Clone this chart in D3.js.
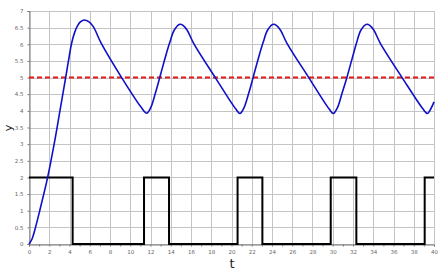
<!DOCTYPE html>
<html><head><meta charset="utf-8">
<script src="https://cdn.jsdelivr.net/npm/d3@7/dist/d3.min.js"></script>
<style>body{margin:0;background:#fff}svg{display:block}</style>
</head><body><svg id="c" width="447" height="273"></svg>
<script>
// Data
const curveT = [0,0.3,0.6,1.1,1.84,2.5,3.0,3.62,3.88,4.21,4.5,4.8,5.1,5.47,5.9,6.35,7.1,9.15,11.1,11.62,
  12.0,12.5,13.0,13.5,13.9,14.35,14.91,15.21,15.61,16.26,18.4,20.41,20.84,
  21.22,21.72,22.22,22.72,23.12,23.57,24.13,24.43,24.83,25.48,27.63,29.63,30.06,
  30.44,30.94,31.44,31.94,32.34,32.79,33.35,33.65,34.05,34.7,36.85,38.9,39.34,39.7,40];
const curveY = [0,0.15,0.45,1.05,2.0,3.03,3.9,5.0,5.47,6.03,6.35,6.56,6.68,6.73,6.68,6.53,6.05,5.0,4.1,3.93,
  4.08,4.55,5.1,5.65,6.05,6.43,6.6,6.57,6.43,6.03,5.0,4.06,3.92,
  4.08,4.55,5.1,5.65,6.05,6.43,6.6,6.57,6.43,6.03,5.0,4.06,3.92,
  4.08,4.55,5.05,5.6,6.03,6.43,6.6,6.57,6.43,6.03,5.0,4.06,3.92,4.07,4.27];
const stepT = [0,4.31,11.36,13.83,20.6,23.05,29.8,32.33,39.08,40];
const stepV = [2,0,2,0,2,0,2,0,2,2];
const refLevel = 5;
const xTicks = d3.range(0,41,2);
const yTicks = d3.range(0,7.01,0.5);

const svg = d3.select("#c");
const L=29,R=434,T=11,B=244;
const x = d3.scaleLinear().domain([0,40]).range([L,R]);
const y = d3.scaleLinear().domain([0,7]).range([B,T]);

// grid
const g = svg.append("g");
g.selectAll(".gx").data(xTicks).enter().append("line")
 .attr("x1",d=>Math.round(x(d))+0.5).attr("x2",d=>Math.round(x(d))+0.5).attr("y1",T).attr("y2",B)
 .attr("stroke","#c4c4c4").attr("stroke-width",1);
g.selectAll(".gy").data(yTicks).enter().append("line")
 .attr("y1",d=>Math.round(y(d))+0.5).attr("y2",d=>Math.round(y(d))+0.5).attr("x1",L).attr("x2",R)
 .attr("stroke","#c4c4c4").attr("stroke-width",1);

// axes
const fmt = d=>String(d);
const ax = svg.append("g").attr("transform",`translate(0,${B+0.5})`)
 .call(d3.axisBottom(x).tickValues(d3.range(0,41,1)).tickSize(2).tickFormat(d=>d%2===0?fmt(d):""));
const ay = svg.append("g").attr("transform",`translate(${L+0.5},0)`)
 .call(d3.axisLeft(y).tickValues(yTicks).tickSize(2).tickFormat(fmt));
[ax,ay].forEach(a=>{
  a.select(".domain").attr("stroke","#777");
  a.selectAll(".tick line").attr("stroke","#777");
  a.selectAll("text").attr("fill","#666").attr("font-size","5.5px").attr("font-family","DejaVu Sans, sans-serif");
});
ax.selectAll("text").attr("dy","0.9em");
ay.selectAll("text").attr("dx","-1px");

// reference dashed line
svg.append("line").attr("x1",L).attr("x2",R).attr("y1",y(refLevel)).attr("y2",y(refLevel))
 .attr("stroke","#e01818").attr("stroke-width",2).attr("stroke-dasharray","5,3");

// step signal
const stepData = stepT.map((t,i)=>[t,stepV[i]]);
svg.append("path").datum(stepData)
 .attr("d",d3.line().x(d=>x(d[0])).y(d=>y(d[1])).curve(d3.curveStepAfter))
 .attr("fill","none").attr("stroke","#000").attr("stroke-width",2);

// response curve
const cData = curveT.map((t,i)=>[t,curveY[i]]);
svg.append("path").datum(cData)
 .attr("d",d3.line().x(d=>x(d[0])).y(d=>y(d[1])).curve(d3.curveCatmullRom.alpha(0.5)))
 .attr("fill","none").attr("stroke","#1010c8").attr("stroke-width",1.6);

// labels
svg.append("text").attr("x",232).attr("y",268).attr("text-anchor","middle")
 .attr("font-family","DejaVu Sans, sans-serif").attr("font-size","13px").attr("fill","#222").text("t");
svg.append("text").attr("transform","translate(12,128) rotate(-90)").attr("text-anchor","middle")
 .attr("font-family","DejaVu Sans, sans-serif").attr("font-size","11px").attr("fill","#222").text("y");
</script></body></html>
